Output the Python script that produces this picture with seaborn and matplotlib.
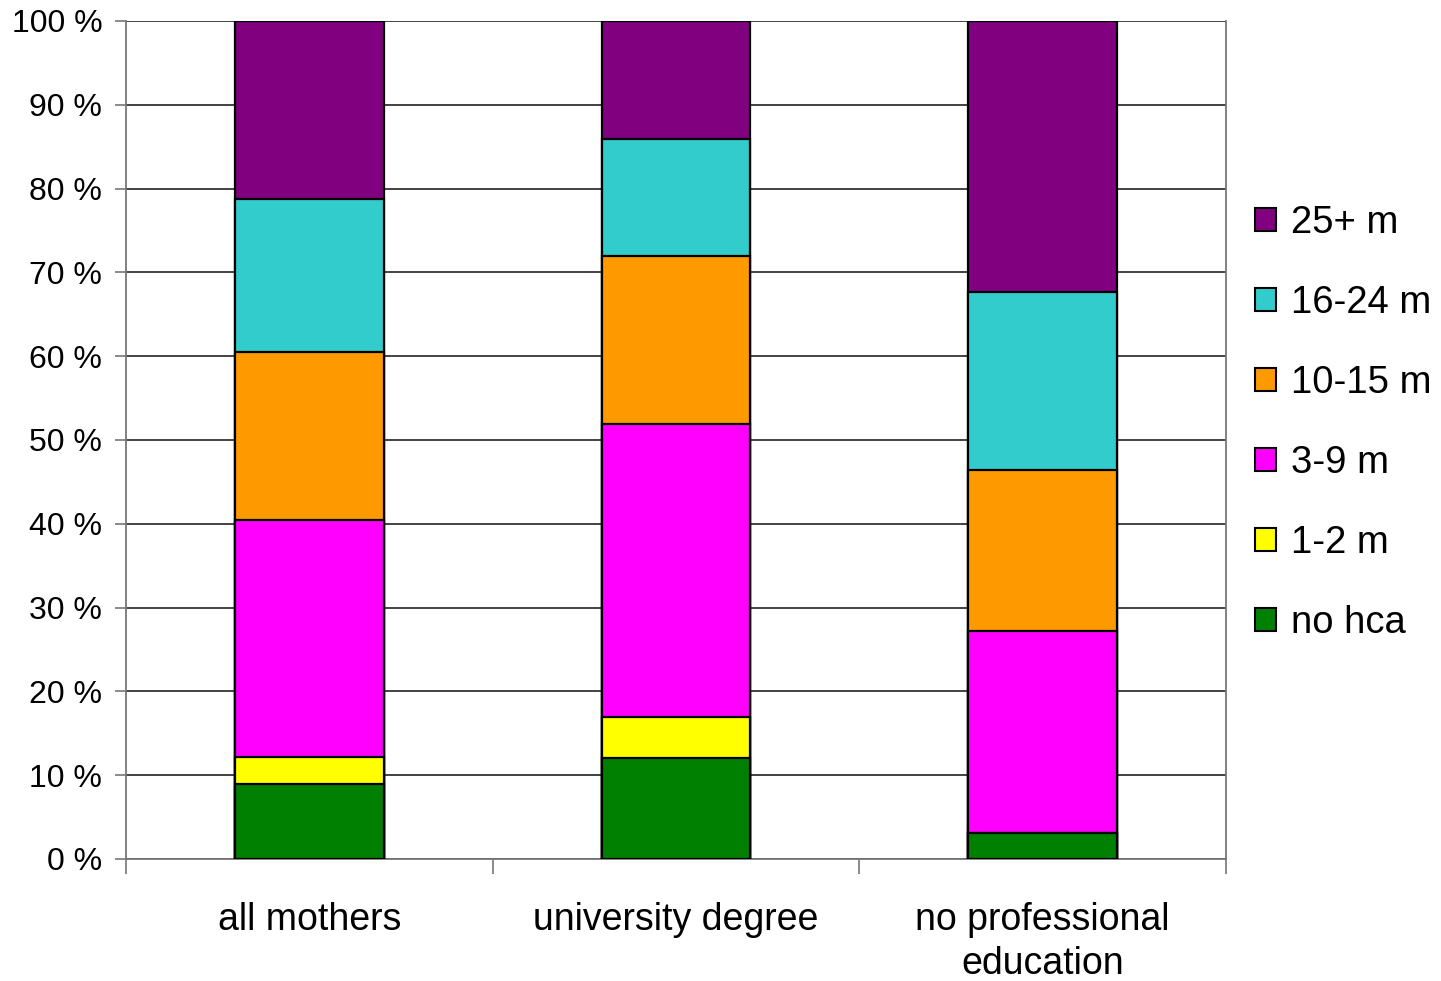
import pandas as pd
import matplotlib.pyplot as plt
import seaborn as sns
from matplotlib.patches import Patch
from matplotlib.ticker import FixedLocator

# datos (porcentajes por grupo, de abajo hacia arriba)
groups = ['all mothers', 'university degree', 'no professional\neducation']
categories = ['no hca', '1-2 m', '3-9 m', '10-15 m', '16-24 m', '25+ m']
no_hca = [9.0, 12.0, 3.1]
m1_2 = [3.2, 4.9, 0.0]
m3_9 = [28.2, 35.0, 24.1]
m10_15 = [20.1, 20.1, 19.2]
m16_24 = [18.2, 13.9, 21.3]
m25 = [21.3, 14.1, 32.3]
colors = ['#008000', '#FFFF00', '#FF00FF', '#FF9900', '#33CCCC', '#800080']

series = [no_hca, m1_2, m3_9, m10_15, m16_24, m25]

# construir tabla larga con acumulados
rows = []
for i, g in enumerate(groups):
    total = 0
    for cat, vals in zip(categories, series):
        total += vals[i]
        rows.append({'group': g, 'cat': cat, 'cum': total})
df = pd.DataFrame(rows)

sns.set_style('white')
plt.rcParams['font.family'] = ['Liberation Sans', 'DejaVu Sans']
plt.rcParams['text.color'] = 'black'
plt.rcParams['xtick.labelcolor'] = 'black'
plt.rcParams['ytick.labelcolor'] = 'black'

fig = plt.figure(figsize=(14.41, 9.81), dpi=100)
ax = fig.add_axes([0.0874, 0.1244, 0.7634, 0.8542])

# dibujar de la capa superior a la inferior (barras superpuestas)
for cat, col in reversed(list(zip(categories, colors))):
    sub = df[df['cat'] == cat]
    sns.barplot(data=sub, x='group', y='cum', order=groups, color=col,
                saturation=1, width=0.405, edgecolor='black', linewidth=1.6,
                errorbar=None, ax=ax, zorder=3)

ax.set_xlim(-0.5, 2.5)
ax.set_ylim(0, 100)
ax.set_yticks(range(0, 101, 10))
ax.set_yticklabels([f'{v} %' for v in range(0, 101, 10)], fontsize=23)
ax.yaxis.grid(True, color='#222222', linewidth=1.2, zorder=0)
ax.set_axisbelow(True)
ax.tick_params(axis='y', length=8, width=1.2, color='#777777', pad=9, left=True)

ax.set_xticks(range(len(groups)))
ax.set_xticklabels(groups, fontsize=27, linespacing=1.3)
ax.tick_params(axis='x', which='major', length=0, pad=31)
ax.xaxis.set_minor_locator(FixedLocator([-0.5, 0.5, 1.5, 2.5]))
ax.tick_params(axis='x', which='minor', length=11, width=1.2, color='#777777', bottom=True)

ax.set_xlabel('')
ax.set_ylabel('')
for side in ['left', 'bottom', 'right', 'top']:
    ax.spines[side].set_color('#777777')
    ax.spines[side].set_linewidth(1.3)
ax.spines['top'].set_visible(False)

handles = [Patch(facecolor=c, edgecolor='black', linewidth=1.5, label=l)
           for l, c in zip(categories, colors)][::-1]
fig.legend(handles=handles, loc='center left', bbox_to_anchor=(0.871, 0.569),
           frameon=False, fontsize=27.5, handlelength=0.55, handleheight=0.55,
           handletextpad=0.4, labelspacing=1.15, borderpad=0, borderaxespad=0)

plt.savefig('out.png', dpi=100)
